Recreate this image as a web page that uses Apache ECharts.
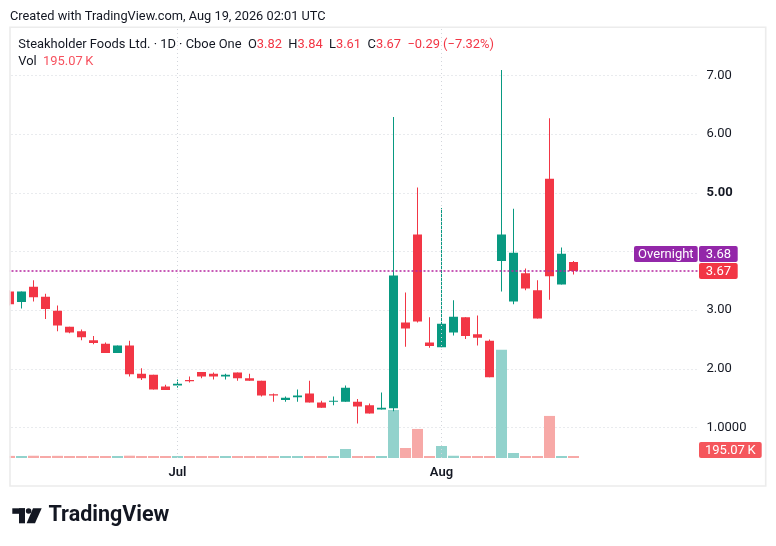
<!DOCTYPE html>
<html><head><meta charset="utf-8">
<script src="https://cdn.jsdelivr.net/npm/echarts@6/dist/echarts.min.js"></script>
<style>html,body{margin:0;padding:0;background:#fff}#c{width:776px;height:546px}</style>
</head><body><div id="c"></div>
<script>
// ---- data ----
const dates = ['2026-06-10','2026-06-11','2026-06-12','2026-06-15','2026-06-16','2026-06-17','2026-06-18','2026-06-22','2026-06-23','2026-06-24','2026-06-25','2026-06-26','2026-06-29','2026-06-30',
'2026-07-01','2026-07-02','2026-07-06','2026-07-07','2026-07-08','2026-07-09','2026-07-10','2026-07-13','2026-07-14','2026-07-15','2026-07-16','2026-07-17','2026-07-20','2026-07-21','2026-07-22','2026-07-23','2026-07-24','2026-07-27','2026-07-28','2026-07-29','2026-07-30','2026-07-31',
'2026-08-03','2026-08-04','2026-08-05','2026-08-06','2026-08-07','2026-08-10','2026-08-11','2026-08-12','2026-08-13','2026-08-14','2026-08-17','2026-08-18'];
const opens  = [3.32,3.14,3.40,3.23,2.99,2.72,2.64,2.49,2.43,2.27,2.40,1.92,1.90,1.70, 1.72,1.81,1.95,1.92,1.87,1.94,1.84,1.80,1.57,1.47,1.52,1.58,1.43,1.44,1.44,1.44,1.38,1.31,1.33,2.79,4.29,2.45, 2.37,2.62,2.88,2.59,2.48,3.84,3.15,3.63,3.34,5.24,3.44,3.82];
const highs  = [3.34,3.32,3.51,3.28,3.08,2.72,2.67,2.56,2.45,2.40,2.48,2.01,1.90,1.73, 1.82,1.87,1.95,1.94,1.92,1.94,1.92,1.80,1.58,1.53,1.65,1.80,1.46,1.53,1.72,1.49,1.41,1.60,6.29,3.30,5.09,2.88, 4.74,3.17,2.88,2.91,2.50,7.09,4.73,3.71,3.51,6.27,4.07,3.84];
const lows   = [3.08,3.03,3.15,2.85,2.64,2.61,2.49,2.42,2.27,2.27,1.87,1.81,1.65,1.64, 1.68,1.77,1.84,1.82,1.82,1.80,1.80,1.53,1.44,1.44,1.44,1.43,1.34,1.38,1.44,1.07,1.24,1.31,1.28,2.38,2.79,2.36, 2.37,2.57,2.51,2.40,1.86,3.32,3.10,3.34,2.86,3.18,3.44,3.61];
const closes = [3.10,3.32,3.22,3.02,2.74,2.62,2.54,2.44,2.27,2.40,1.91,1.84,1.65,1.64, 1.75,1.79,1.87,1.87,1.90,1.84,1.80,1.55,1.55,1.51,1.55,1.43,1.34,1.46,1.68,1.36,1.24,1.34,3.59,2.69,2.81,2.39, 2.77,2.89,2.56,2.53,1.86,4.29,3.98,3.37,2.86,3.58,3.96,3.67];
const volumes = [420000,380000,450000,400000,430000,350000,360000,330000,380000,340000,460000,390000,370000,330000, 360000,320000,340000,310000,300000,320000,290000,380000,330000,300000,350000,400000,330000,340000,1800000,400000,350000,300000,9600000,2000000,5800000,400000, 2400000,450000,250000,400000,250000,21600000,1000000,250000,300000,8400000,400000,195070];
const emptySlots = ['s1','s2','s3','s4','s5','s6','s7','s8','s9','s10'];
const priceTicks = [1,2,3,4,5,6,7];
const monthLabels = {'2026-07-01':'Jul','2026-08-03':'Aug'};
const lastPrice = 3.67, overnightPrice = 3.68, lastVolume = 195070;

// ---- style ----
const UP = '#089981', DOWN = '#f23645';
const UPV = '#92d2cc', DOWNV = '#f7a9a7';
const FONT = 'Roboto';
const GRID_L = 3.5, GRID_W = 696;
const cats = dates.concat(emptySlots);

const candleData = dates.map((d,i)=>[i, opens[i], closes[i], lows[i], highs[i]]);
const volData = dates.map((d,i)=>({value:volumes[i], itemStyle:{color: closes[i]>=opens[i]?UPV:DOWNV}}));

const chart = echarts.init(document.getElementById('c'));
const dotted = {color:'#d3d6dc', type:[1,3], width:1};

function renderCandle(params, api){
  const i = api.value(0), o = api.value(1), c = api.value(2), l = api.value(3), h = api.value(4);
  const pO = api.coord([i,o]), pC = api.coord([i,c]), pL = api.coord([i,l]), pH = api.coord([i,h]);
  const band = api.size([1,0])[0];
  const bw = Math.round(band*0.75);
  const x = pO[0];
  const col = c >= o ? UP : DOWN;
  const top = Math.min(pO[1], pC[1]);
  const bh = Math.max(Math.abs(pO[1]-pC[1]), 1);
  return {type:'group', children:[
    {type:'rect', shape:{x:x-0.5, y:pH[1], width:1, height:Math.max(pL[1]-pH[1],1)}, style:{fill:col, stroke:null}},
    {type:'rect', shape:{x:x-bw/2, y:top, width:bw, height:bh}, style:{fill:col, stroke:null}}
  ]};
}

chart.setOption({
  animation:false,
  backgroundColor:'#ffffff',
  grid:[
    {left:GRID_L, width:GRID_W, top:16.6, height:469.8},
    {left:GRID_L, width:GRID_W, top:27.3, height:430.7}
  ],
  xAxis:[
    {type:'category', gridIndex:0, data:cats, boundaryGap:true, show:false},
    {type:'category', gridIndex:1, data:cats, boundaryGap:true,
     axisLine:{show:false}, axisTick:{show:false}, splitLine:{show:false},
     axisLabel:{interval:(i,v)=>!!monthLabels[v], formatter:v=>monthLabels[v]||'', margin:8,
       color:'#131722', fontFamily:FONT, fontSize:13, fontWeight:600}}
  ],
  yAxis:[
    {type:'value', gridIndex:0, position:'right', min:0, max:8, interval:1,
     axisLine:{show:false}, axisTick:{show:false},
     splitLine:{show:true, lineStyle:dotted, showMinLine:false, showMaxLine:false},
     axisLabel:{margin:7, color:'#131722', fontFamily:FONT, fontSize:13,
       formatter:v=>{
         if(!priceTicks.includes(v) || v===4) return '';
         if(v===1) return '1.0000';
         if(v===5) return '{b|5.00}';
         return v.toFixed(2);
       },
       rich:{b:{fontWeight:'bold', fontFamily:FONT, fontSize:13, color:'#131722'}}}},
    {type:'value', gridIndex:1, min:0, max:86000000, show:false, splitLine:{show:false}}
  ],
  series:[
    {type:'bar', xAxisIndex:1, yAxisIndex:1, data:volData, barWidth:11, barMinHeight:2, z:1,
     markLine:{silent:true, symbol:'none', label:{show:false},
       lineStyle:{color:'#d3d6dc', type:[1,3], width:1},
       data:Object.keys(monthLabels).map(k=>({xAxis:k}))}},
    {type:'custom', xAxisIndex:0, yAxisIndex:0, data:candleData, renderItem:renderCandle, z:3, clip:true,
     encode:{x:0, y:[1,2,3,4]},
     markLine:{silent:true, symbol:'none', label:{show:false},
       lineStyle:{color:'#b5259f', type:[2,2], width:1.5},
       data:[{yAxis:lastPrice}]}}
  ]
});

// ---- overlay annotations positioned through the axes ----
const yLast = chart.convertToPixel({yAxisIndex:0}, lastPrice);
const yVol = Math.min(chart.convertToPixel({yAxisIndex:1}, lastVolume), 458-8);
const axX = GRID_L + GRID_W - 0.5;
const redTop = yLast - 8;
const ovTop = redTop - 17;

function boxLabel(x, top, w, text, bg){
  return {type:'group', z:120, children:[
    {type:'rect', shape:{x:x, y:top, width:w, height:16, r:2}, style:{fill:bg}},
    {type:'text', x:x + w/2, y:top+8.5, style:{text:text, fill:'#ffffff', font:'13px '+FONT, align:'center', verticalAlign:'middle'}}
  ]};
}
const LF = '12.9px ' + FONT;
const rich = {k:{fill:'#131722', font:LF}, r:{fill:DOWN, font:LF}};
const legendLine = '{k|Steakholder Foods Ltd. · 1D · Cboe One}  {k|O}{r|3.82}  {k|H}{r|3.84}  {k|L}{r|3.61}  {k|C}{r|3.67}  {r|−0.29 (−7.32%)}';

const graphics = [
  {type:'rect', z:100, shape:{x:0, y:14, width:9.5, height:475}, style:{fill:'#ffffff'}},
  {type:'rect', z:101, shape:{x:10, y:27.3, width:755.7, height:458.7}, style:{fill:'none', stroke:'#ececec', lineWidth:1.6}},
  {type:'text', z:110, x:10, y:17, style:{text:'Created with TradingView.com, Aug 19, 2026 02:01 UTC', fill:'#131722', font:'12.8px '+FONT, verticalAlign:'middle'}},
  {type:'text', z:110, x:18.3, y:45, style:{text:legendLine, font:LF, verticalAlign:'middle', rich:rich}},
  {type:'text', z:110, x:18.3, y:61.5, style:{text:'{k|Vol}  {v|195.07\u2009K}', font:LF, verticalAlign:'middle', rich:{k:rich.k, v:{fill:'#f7525f', font:LF}}}},
  boxLabel(634, ovTop, 63.7, 'Overnight', '#9327a9'),
  boxLabel(axX, ovTop, 38.7, overnightPrice.toFixed(2), '#9327a9'),
  boxLabel(axX, redTop, 38.7, lastPrice.toFixed(2), DOWN),
  boxLabel(axX, yVol-8, 62.7, '195.07\u2009K', '#f5565c'),
  {type:'group', z:110, children:[
    {type:'rect', shape:{x:12.3, y:508.3, width:12.7, height:5.5}, style:{fill:'#131722'}},
    {type:'rect', shape:{x:19, y:508.3, width:6, height:15}, style:{fill:'#131722'}},
    {type:'circle', shape:{cx:28.6, cy:511, r:2.8}, style:{fill:'#131722'}},
    {type:'polygon', shape:{points:[[33,508.3],[41.7,508.3],[35,523.3],[26.6,523.3]]}, style:{fill:'#131722'}},
    {type:'text', x:48.5, y:516, style:{text:'TradingView', fill:'#131722', font:'bold 21.5px '+FONT, verticalAlign:'middle'}}
  ]}
];
chart.setOption({graphic:graphics});
</script>
</body></html>
